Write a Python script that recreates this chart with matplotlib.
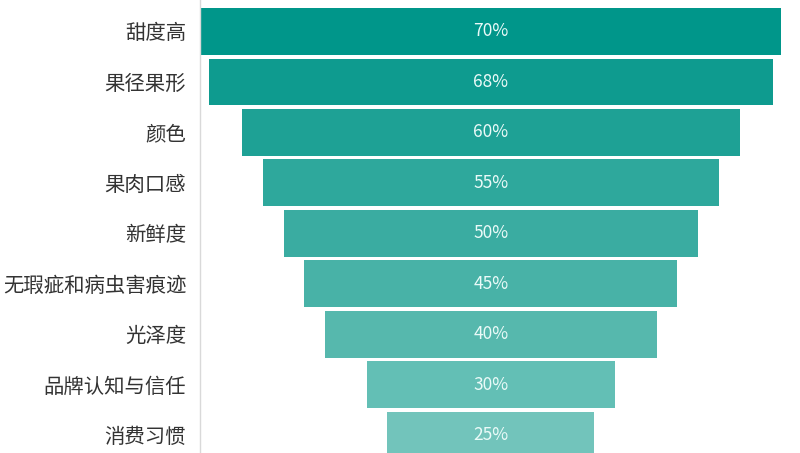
import numpy as np
import matplotlib.pyplot as plt

plt.rcParams['font.family'] = ['Noto Sans CJK SC', 'DejaVu Sans']

# Data
categories = ['甜度高', '果径果形', '颜色', '果肉口感', '新鲜度',
              '无瑕疵和病虫害痕迹', '光泽度', '品牌认知与信任', '消费习惯']
values = [70, 68, 60, 55, 50, 45, 40, 30, 25]

colors = ['#00968a', '#0e9b8f', '#1ea195', '#2ea89c', '#3aaca1',
          '#48b2a7', '#56b8ad', '#63bfb5', '#72c4bb']

fig = plt.figure(figsize=(8, 4.53), dpi=100)
ax = fig.add_axes([0.25, 0, 0.75, 1])

y = np.arange(len(categories))
vals = np.array(values, dtype=float)
ax.barh(y, vals, left=-vals / 2, height=0.93, color=colors, edgecolor='none')

for yi, v in zip(y, values):
    ax.text(0, yi, f'{v}%', ha='center', va='center', color='#eafaf8', fontsize=12.5)

ax.set_xlim(-35.1, 37.3)
ax.set_ylim(8.35, -0.624)

ax.set_yticks(y)
ax.set_yticklabels(categories, fontsize=14.7, color='#333333')
ax.tick_params(axis='y', length=0, pad=10)
ax.set_xticks([])

for s in ['top', 'right', 'bottom']:
    ax.spines[s].set_visible(False)
ax.spines['left'].set_color('#d9d9d9')
ax.spines['left'].set_linewidth(1)

plt.savefig('out.png', dpi=100)
